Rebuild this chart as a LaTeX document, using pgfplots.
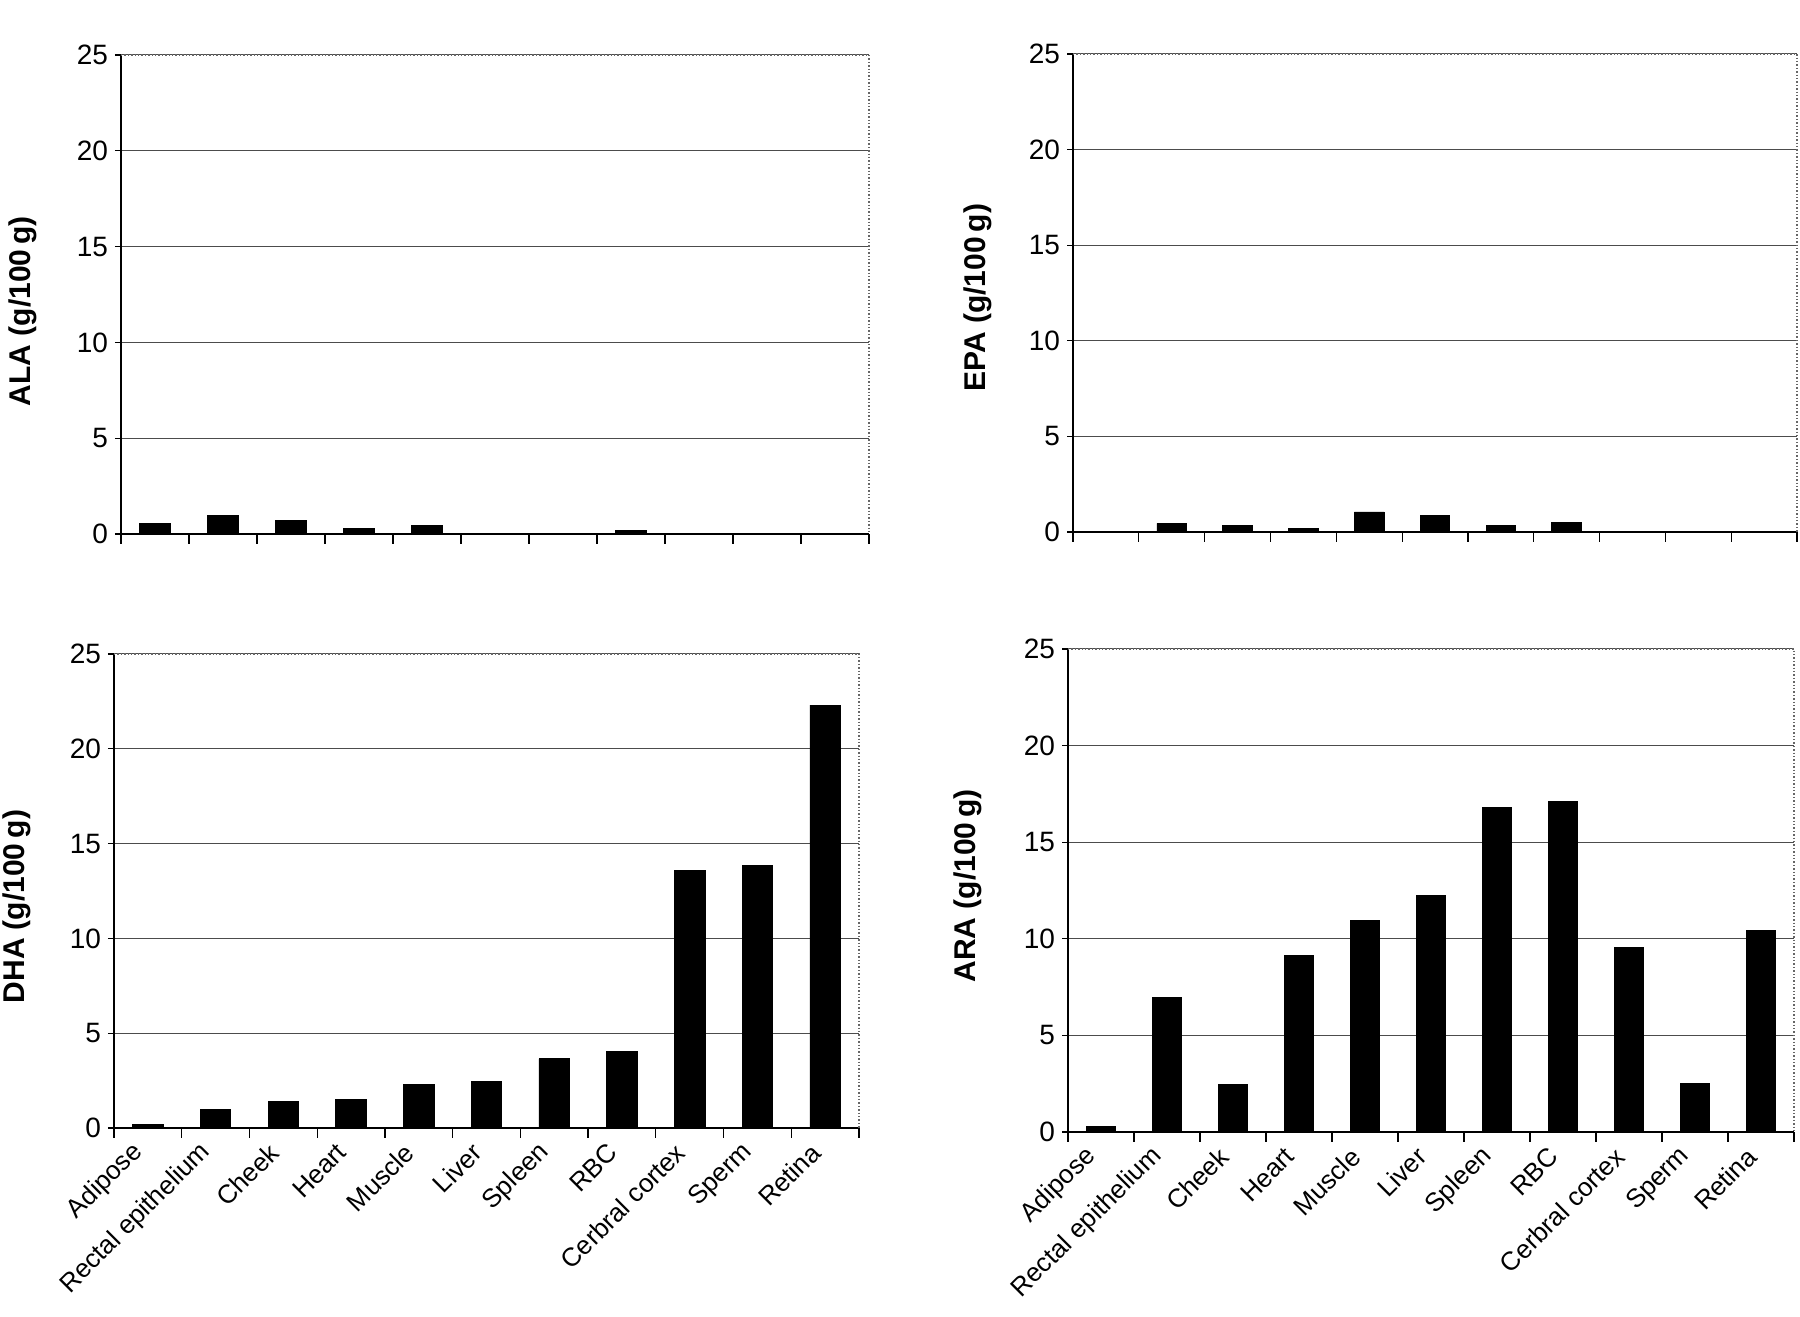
\documentclass[border=0pt]{standalone}
\usepackage{fontspec}
\setmainfont{Liberation Sans}
\usepackage{pgfplots}
\pgfplotsset{compat=1.18}

\pgfplotstableread{
x ALA EPA DHA ARA
0 0.55 0    0.18 0.30
1 0.95 0.45 1.00 6.95
2 0.70 0.32 1.38 2.48
3 0.30 0.18 1.52 9.15
4 0.45 1.05 2.30 10.95
5 0    0.85 2.45 12.25
6 0    0.33 3.65 16.80
7 0.20 0.48 4.02 17.10
8 0    0.05 13.60 9.55
9 0    0    13.85 2.50
10 0   0    22.30 10.45
}\data

\pgfplotsset{
  panel/.style={
    scale only axis,
    ybar, bar width=0.45,
    xmin=-0.5, xmax=10.5, ymin=0, ymax=25,
    enlargelimits=false,
    ytick={0,5,...,25},
    xtick={0,...,10},
    minor xtick={-0.5,0.5,...,10.5},
    major x tick style={draw=none},
    axis x line*=bottom, axis y line*=left,
    axis line style={black, line width=0.8pt},
    tick align=outside,
    major tick length=3pt, minor tick length=5pt,
    tick style={black, line width=0.6pt},
    ymajorgrids, grid style={black!70, line width=0.5pt},
    yticklabel style={font=\fontsize{14}{16}\selectfont},
    xticklabel style={font=\fontsize{13}{15}\selectfont},
    /pgf/number format/assume math mode=true,
    ylabel style={font=\bfseries\fontsize{15}{17}\selectfont, anchor=center},
    clip=false,
  },
  toppanel/.style={panel, xticklabels={}},
  botpanel/.style={panel,
    xticklabels={Adipose, Rectal epithelium, Cheek, Heart, Muscle, Liver, Spleen, RBC, Cerbral cortex, Sperm, Retina},
    xticklabel style={inner sep=0pt, xshift=-4.5pt, yshift=-7pt, rotate=45, anchor=east},
  },
}
\newcommand{\frameTR}{\draw[black!60, densely dotted, line width=0.7pt] (rel axis cs:0,1) -- (rel axis cs:1,1) -- (rel axis cs:1,0);}

\begin{document}
\begin{tikzpicture}
\useasboundingbox (0,0) rectangle (900pt,658.5pt);

\begin{axis}[toppanel, at={(60.5pt,391.5pt)}, anchor=south west, width=374pt, height=239.5pt,
  ylabel={ALA (g/100\,g)}, ylabel style={at={(axis description cs:-0.131,0.465)}}]
  \addplot[fill=black, draw=black] table[x=x, y=ALA] {\data};
  \frameTR
\end{axis}

\begin{axis}[toppanel, at={(536.5pt,392.5pt)}, anchor=south west, width=362pt, height=239pt,
  ylabel={EPA (g/100\,g)}, ylabel style={at={(axis description cs:-0.131,0.49)}}]
  \addplot[fill=black, draw=black] table[x=x, y=EPA] {\data};
  \frameTR
\end{axis}

\begin{axis}[botpanel, at={(57pt,94.5pt)}, anchor=south west, width=372.5pt, height=237pt,
  ylabel={DHA (g/100\,g)}, ylabel style={at={(axis description cs:-0.130,0.467)}}]
  \addplot[fill=black, draw=black] table[x=x, y=DHA] {\data};
  \frameTR
\end{axis}

\begin{axis}[botpanel, at={(534pt,92.5pt)}, anchor=south west, width=363pt, height=241.5pt,
  ylabel={ARA (g/100\,g)}, ylabel style={at={(axis description cs:-0.138,0.51)}}]
  \addplot[fill=black, draw=black] table[x=x, y=ARA] {\data};
  \frameTR
\end{axis}
\end{tikzpicture}
\end{document}
